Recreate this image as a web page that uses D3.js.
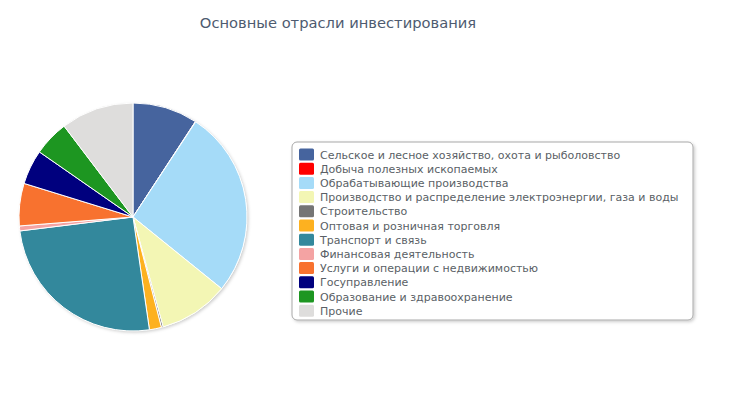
<!DOCTYPE html>
<html><head><meta charset="utf-8">
<script src="https://cdn.jsdelivr.net/npm/d3@7"></script>
<style>body{margin:0;background:#fff;}svg{display:block;}</style>
</head><body>
<svg id="c" width="750" height="403"></svg>
<script>
const titleText = "Основные отрасли инвестирования";
const categories = [
  "Сельское и лесное хозяйство, охота и рыболовство",
  "Добыча полезных ископаемых",
  "Обрабатывающие производства",
  "Производство и распределение электроэнергии, газа и воды",
  "Строительство",
  "Оптовая и розничная торговля",
  "Транспорт и связь",
  "Финансовая деятельность",
  "Услуги и операции с недвижимостью",
  "Госуправление",
  "Образование и здравоохранение",
  "Прочие"
];
const values = [9.2, 0.05, 26.5, 9.9, 0.25, 1.7, 25.3, 0.7, 6.0, 4.9, 5.0, 10.3];
const colors = ["#46649e","#ff0000","#a5dbf8","#f3f6b4","#757575","#fdb120","#33889c","#f4a3a3","#f8722f","#00007e","#1d9621","#dedddc"];

const svg = d3.select("#c");
const defs = svg.append("defs");
const f = defs.append("filter").attr("id","sh").attr("x","-10%").attr("y","-10%").attr("width","130%").attr("height","130%");
f.append("feDropShadow").attr("dx",1.5).attr("dy",1.5).attr("stdDeviation",1.5).attr("flood-color","#000").attr("flood-opacity",0.2);

svg.append("text").attr("x",338).attr("y",28).attr("text-anchor","middle")
  .attr("font-family","DejaVu Sans").attr("font-size",14.7).attr("fill","#4e5b70").text(titleText);

const cx = 133, cy = 217, r = 114;
const pie = d3.pie().sort(null).value(d => d)(values);
const arc = d3.arc().innerRadius(0).outerRadius(r);
const g = svg.append("g").attr("transform",`translate(${cx},${cy})`);
g.append("circle").attr("r",r).attr("fill","#fff").attr("filter","url(#sh)");
g.selectAll("path").data(pie).join("path")
  .attr("d",arc).attr("fill",(d,i)=>colors[i])
  .attr("stroke","#fff").attr("stroke-width",1).attr("stroke-linejoin","round");

// legend
const lx = 292, ly = 142, lw = 401, lh = 178;
svg.append("rect").attr("x",lx).attr("y",ly).attr("width",lw).attr("height",lh)
  .attr("rx",5).attr("fill","#fff").attr("stroke","#a8a8a8").attr("stroke-width",1).attr("filter","url(#sh)");
const rowY = d3.scaleLinear().domain([0, categories.length-1]).range([154.5, 310.7]);
const items = svg.append("g").selectAll("g").data(categories).join("g")
  .attr("transform",(d,i)=>`translate(299,${rowY(i)})`);
items.append("rect").attr("x",0).attr("y",-6).attr("width",15).attr("height",12).attr("rx",1.5)
  .attr("fill",(d,i)=>colors[i]);
items.append("text").attr("x",21).attr("y",4).attr("font-family","DejaVu Sans").attr("font-size",11)
  .attr("fill","#5a5f66").text(d=>d);
</script>
</body></html>
